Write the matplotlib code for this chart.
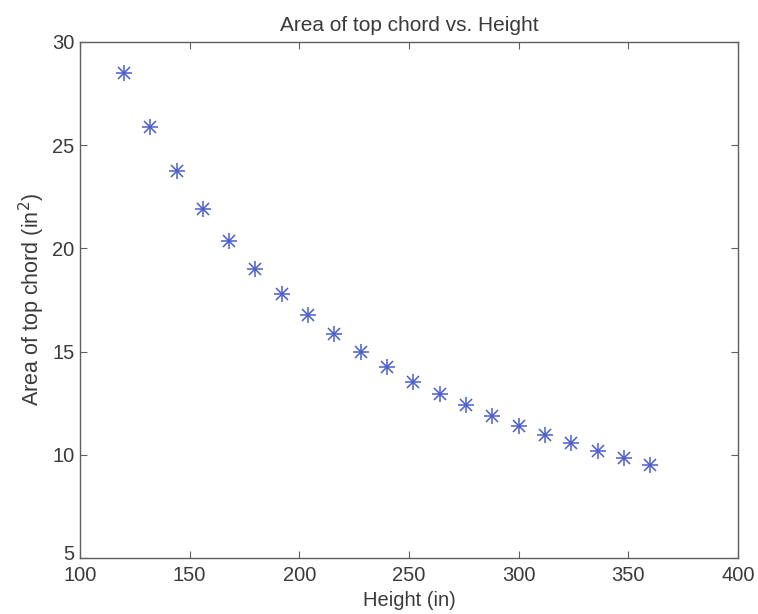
import matplotlib
matplotlib.use("Agg")
import matplotlib.pyplot as plt
import matplotlib.transforms as mtransforms

plt.rcParams['font.family'] = ['Liberation Sans', 'DejaVu Sans']

# Truss height (in) and required top-chord area (in^2)
height_in = [120, 132, 144, 156, 168, 180, 192, 204, 216, 228, 240,
             252, 264, 276, 288, 300, 312, 324, 336, 348, 360]
area_in2 = [28.5, 25.9, 23.75, 21.9, 20.35, 19.0, 17.8, 16.75, 15.85, 15.0, 14.25,
            13.55, 12.95, 12.4, 11.9, 11.4, 10.95, 10.55, 10.2, 9.85, 9.5]

x_ticks = [100, 150, 200, 250, 300, 350, 400]
y_ticks = [5, 10, 15, 20, 25, 30]

text_color = '#3a3a3a'
axis_color = '#5f5f5f'
mark_color = '#4a5ccc'
fs = 14.5

fig = plt.figure(figsize=(7.58, 6.14), dpi=100)
ax = fig.add_axes([80 / 758, 1 - 558 / 614, (738 - 80) / 758, (558 - 42) / 614])

# asterisk markers drawn as an overlaid plus and cross
ax.plot(height_in, area_in2, linestyle='none', marker='+', markersize=11,
        markeredgewidth=1.1, color=mark_color)
ax.plot(height_in, area_in2, linestyle='none', marker='x', markersize=8,
        markeredgewidth=1.1, color=mark_color)

ax.set_xlim(100, 400)
ax.set_ylim(5, 30)
ax.set_xticks(x_ticks)
ax.set_yticks(y_ticks)
ax.tick_params(direction='in', top=True, right=True, length=5, width=0.8,
               colors=axis_color, labelcolor=text_color, labelsize=fs)
ax.tick_params(axis='y', pad=4)
ax.tick_params(axis='x', pad=6)
for s in ax.spines.values():
    s.set_color(axis_color)
    s.set_linewidth(1.0)

# lift the lowest y label a little so it clears the first x label
fig.canvas.draw()
lowest = ax.get_yticklabels()[0]
lowest.set_transform(lowest.get_transform() +
                     mtransforms.ScaledTranslation(0, 4 / 72, fig.dpi_scale_trans))

ax.set_title('Area of top chord vs. Height', fontsize=fs + 0.5, color=text_color, pad=8)
ax.set_xlabel('Height (in)', fontsize=fs, color=text_color, labelpad=4)
ax.set_ylabel('Area of top chord (in$^2$)', fontsize=fs + 1, color=text_color, labelpad=4)

fig.savefig('out.png', dpi=100, facecolor='white')
